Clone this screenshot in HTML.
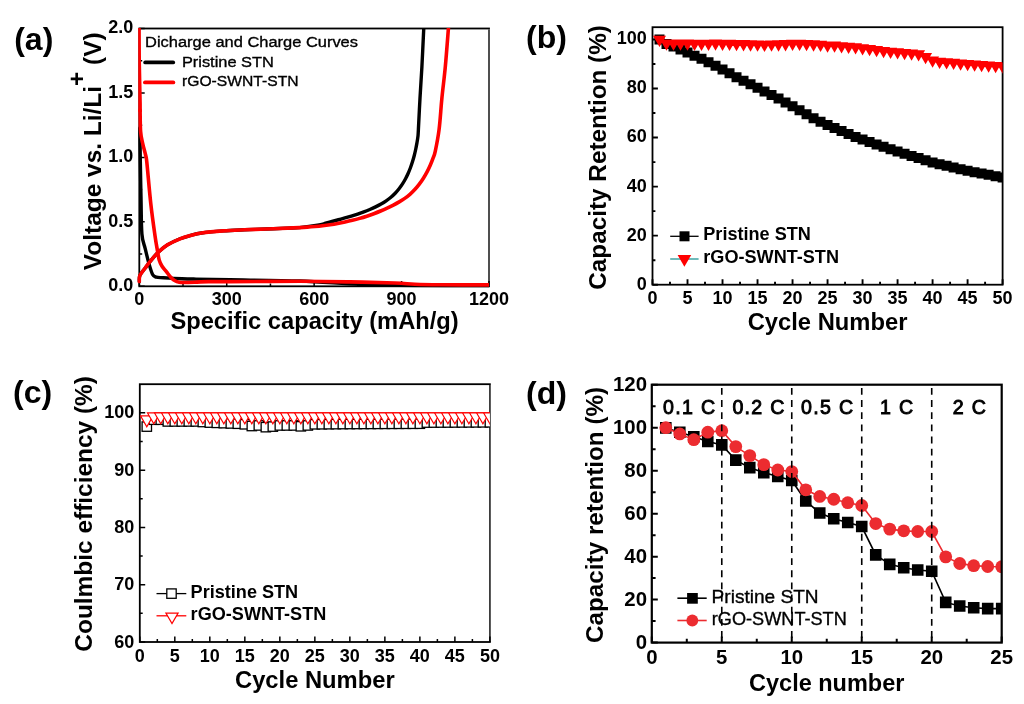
<!DOCTYPE html>
<html><head><meta charset="utf-8"><style>
html,body{margin:0;padding:0;background:#fff;width:1024px;height:704px;overflow:hidden}
svg{display:block;will-change:transform}
</style></head><body>
<svg width="1024" height="704" viewBox="0 0 1024 704" font-family="Liberation Sans, sans-serif">
<rect width="1024" height="704" fill="#fff"/>
<defs>
<clipPath id="ca"><rect x="139.30" y="28.50" width="349.70" height="257.80"/></clipPath>
<clipPath id="cb"><rect x="652.50" y="27.20" width="350.10" height="257.50"/></clipPath>
<clipPath id="cc"><rect x="139.80" y="384.20" width="350.10" height="257.80"/></clipPath>
<clipPath id="cd"><rect x="651.80" y="384.70" width="349.90" height="257.90"/></clipPath>
<clipPath id="ca2"><rect x="137.10" y="28.00" width="351.90" height="259.50"/></clipPath>
</defs>
<rect x="139.30" y="28.50" width="349.70" height="257.80" fill="none" stroke="#000" stroke-width="1.8"/>
<path d="M489.00,29.40V285.40" stroke="#fff" stroke-width="1.9000000000000001"/>
<path d="M489.00,29.40V285.40" stroke="#3d3d3d" stroke-width="1.8"/>
<path d="M139.30,286.30v-5.4M226.73,286.30v-5.4M314.15,286.30v-5.4M401.57,286.30v-5.4M489.00,286.30v-5.4M183.01,286.30v-2.9M270.44,286.30v-2.9M357.86,286.30v-2.9M445.29,286.30v-2.9M139.30,286.30h5.4M139.30,221.85h5.4M139.30,157.40h5.4M139.30,92.95h5.4M139.30,28.50h5.4M139.30,254.08h2.9M139.30,189.62h2.9M139.30,125.18h2.9M139.30,60.72h2.9" stroke="#000" stroke-width="1.5" fill="none"/>
<g clip-path="url(#ca2)" fill="none" stroke-linejoin="round" stroke-linecap="round">
<path d="M139.90,128.00 C139.97,133.33 140.12,148.52 140.30,160.00 C140.48,171.48 140.73,184.60 141.00,196.90 C141.27,209.20 141.20,225.18 141.90,233.80 C142.60,242.42 144.03,243.67 145.20,248.60 C146.37,253.53 147.67,259.08 148.90,263.40 C150.13,267.72 151.37,272.20 152.60,274.50 C153.83,276.80 154.45,276.65 156.30,277.20 C158.15,277.75 159.40,277.55 163.70,277.80 C168.00,278.05 176.72,278.48 182.10,278.70 C187.48,278.92 188.02,278.92 196.00,279.10 C203.98,279.28 212.67,279.48 230.00,279.80 C247.33,280.12 278.33,280.25 300.00,281.00 C321.67,281.75 340.83,283.55 360.00,284.30 C379.17,285.05 393.50,285.25 415.00,285.50 C436.50,285.75 476.67,285.75 489.00,285.80" stroke="#000" stroke-width="3.4"/>
<path d="M139.30,281.50 C139.40,280.48 138.92,277.65 139.90,275.40 C140.88,273.15 143.38,270.47 145.20,268.00 C147.02,265.53 148.63,263.22 150.80,260.60 C152.97,257.98 155.43,254.92 158.20,252.30 C160.97,249.68 163.77,247.15 167.40,244.90 C171.03,242.65 176.12,240.38 180.00,238.80 C183.88,237.22 187.12,236.37 190.70,235.40 C194.28,234.43 196.12,233.75 201.50,233.00 C206.88,232.25 215.83,231.43 223.00,230.90 C230.17,230.37 237.35,230.12 244.50,229.80 C251.65,229.48 258.75,229.28 265.90,229.00 C273.05,228.72 281.80,228.33 287.40,228.10 C293.00,227.87 294.19,228.13 299.50,227.60 C304.81,227.07 314.91,225.63 319.26,224.90 C323.61,224.17 323.45,223.77 325.57,223.20 C327.69,222.63 329.84,222.06 331.98,221.49 C334.12,220.92 336.28,220.34 338.44,219.75 C340.60,219.16 342.76,218.56 344.91,217.94 C347.06,217.32 349.20,216.70 351.32,216.05 C353.44,215.40 355.56,214.72 357.65,214.02 C359.73,213.32 361.80,212.61 363.83,211.85 C365.86,211.09 367.86,210.30 369.82,209.48 C371.78,208.66 373.71,207.81 375.58,206.90 C377.45,205.99 379.28,205.05 381.04,204.04 C382.81,203.03 384.53,201.97 386.17,200.84 C387.81,199.71 389.40,198.53 390.91,197.26 C392.42,195.99 393.85,194.65 395.21,193.24 C396.57,191.83 397.85,190.33 399.06,188.78 C400.27,187.23 401.41,185.60 402.49,183.92 C403.57,182.24 404.58,180.50 405.53,178.72 C406.48,176.94 407.37,175.10 408.20,173.23 C409.03,171.36 409.81,169.44 410.53,167.50 C411.25,165.56 411.92,163.58 412.54,161.58 C413.16,159.58 413.74,157.55 414.27,155.49 C414.80,153.44 415.28,151.35 415.72,149.25 C416.17,147.15 416.57,145.02 416.94,142.87 C417.31,140.72 417.70,138.62 417.94,136.37 C418.18,134.12 418.06,135.78 418.40,129.40 C418.74,123.02 419.42,108.52 420.00,98.10 C420.58,87.68 421.27,78.48 421.90,66.90 C422.52,55.32 423.35,36.42 423.75,28.60 C424.15,20.78 424.21,21.43 424.30,20.00" stroke="#000" stroke-width="3.4"/>
<path d="M140.10,110.00 C140.18,113.55 140.18,125.80 140.60,131.30 C141.02,136.80 141.77,139.05 142.60,143.00 C143.43,146.95 144.90,151.83 145.60,155.00 C146.30,158.17 145.93,153.87 146.80,162.00 C147.67,170.13 149.43,191.52 150.80,203.80 C152.17,216.08 153.87,227.75 155.00,235.70 C156.13,243.65 156.90,247.45 157.60,251.50 C158.30,255.55 158.48,257.58 159.20,260.00 C159.92,262.42 160.70,264.05 161.90,266.00 C163.10,267.95 164.97,269.88 166.40,271.70 C167.83,273.52 169.13,275.43 170.50,276.90 C171.87,278.37 173.13,279.62 174.60,280.50 C176.07,281.38 177.55,281.87 179.30,282.20 C181.05,282.53 182.17,282.52 185.10,282.50 C188.03,282.48 192.98,282.25 196.90,282.10 C200.82,281.95 203.08,281.68 208.60,281.60 C214.12,281.52 214.77,281.65 230.00,281.60 C245.23,281.55 280.00,281.25 300.00,281.30 C320.00,281.35 334.17,281.62 350.00,281.90 C365.83,282.18 384.17,282.60 395.00,283.00 C405.83,283.40 407.50,284.00 415.00,284.30 C422.50,284.60 427.67,284.70 440.00,284.80 C452.33,284.90 480.83,284.88 489.00,284.90" stroke="#ff0000" stroke-width="3.6"/>
<path d="M139.30,281.50 C139.40,280.48 138.92,277.65 139.90,275.40 C140.88,273.15 143.38,270.47 145.20,268.00 C147.02,265.53 148.63,263.22 150.80,260.60 C152.97,257.98 155.43,254.92 158.20,252.30 C160.97,249.68 163.77,247.15 167.40,244.90 C171.03,242.65 176.12,240.38 180.00,238.80 C183.88,237.22 187.12,236.37 190.70,235.40 C194.28,234.43 196.12,233.75 201.50,233.00 C206.88,232.25 215.83,231.43 223.00,230.90 C230.17,230.37 237.35,230.12 244.50,229.80 C251.65,229.48 258.75,229.28 265.90,229.00 C273.05,228.72 281.79,228.33 287.40,228.10 C293.00,227.87 296.23,227.75 299.53,227.59 C302.83,227.43 304.66,227.33 307.22,227.16 C309.78,226.99 312.33,226.79 314.88,226.55 C317.43,226.31 319.97,226.05 322.50,225.74 C325.03,225.44 327.56,225.10 330.08,224.72 C332.60,224.34 335.11,223.93 337.60,223.48 C340.09,223.03 342.57,222.54 345.04,222.01 C347.51,221.48 349.96,220.92 352.40,220.31 C354.83,219.70 357.25,219.06 359.65,218.37 C362.05,217.68 364.43,216.95 366.79,216.17 C369.15,215.39 371.50,214.57 373.80,213.71 C376.11,212.85 378.39,211.95 380.62,211.02 C382.85,210.09 385.04,209.13 387.16,208.15 C389.28,207.17 391.35,206.16 393.36,205.12 C395.37,204.08 397.31,203.01 399.21,201.89 C401.10,200.77 402.94,199.64 404.73,198.39 C406.52,197.13 408.25,195.83 409.93,194.36 C411.61,192.89 413.23,191.28 414.79,189.59 C416.35,187.90 417.87,186.08 419.30,184.19 C420.74,182.30 422.10,180.31 423.40,178.26 C424.69,176.21 425.93,174.08 427.07,171.92 C428.21,169.75 429.27,167.52 430.25,165.27 C431.23,163.02 432.14,160.73 432.97,158.40 C433.80,156.07 434.23,156.14 435.25,151.31 C436.27,146.48 437.99,138.27 439.10,129.40 C440.21,120.53 440.87,108.52 441.90,98.10 C442.93,87.68 444.22,78.48 445.30,66.90 C446.38,55.32 447.77,36.42 448.40,28.60 C449.03,20.78 448.98,21.43 449.10,20.00" stroke="#ff0000" stroke-width="3.6"/>
<path d="M138.2,28.0H140.8L141.0,60L141.9,104L141.9,112H138.3Z" fill="#ff0000" stroke="none"/>
</g>
<path d="M145.2,62.4H173.2" stroke="#000" stroke-width="3.8" stroke-linecap="round"/>
<path d="M145.0,82.4H173.3" stroke="#ff0000" stroke-width="3.9" stroke-linecap="round"/>
<text x="145.00" y="46.80" font-size="15.5" font-weight="normal" text-anchor="start" stroke="#000" stroke-width="0.35" textLength="213" lengthAdjust="spacingAndGlyphs">Dicharge and Charge Curves</text>
<text x="181.90" y="66.70" font-size="15.5" font-weight="normal" text-anchor="start" stroke="#000" stroke-width="0.35" textLength="92" lengthAdjust="spacingAndGlyphs">Pristine STN</text>
<text x="182.00" y="86.40" font-size="15.5" font-weight="normal" text-anchor="start" stroke="#000" stroke-width="0.35" textLength="116.5" lengthAdjust="spacingAndGlyphs">rGO-SWNT-STN</text>
<text x="133.40" y="291.00" font-size="18" font-weight="bold" text-anchor="end" >0.0</text>
<text x="133.40" y="226.55" font-size="18" font-weight="bold" text-anchor="end" >0.5</text>
<text x="133.40" y="162.10" font-size="18" font-weight="bold" text-anchor="end" >1.0</text>
<text x="133.40" y="97.65" font-size="18" font-weight="bold" text-anchor="end" >1.5</text>
<text x="133.40" y="33.20" font-size="18" font-weight="bold" text-anchor="end" >2.0</text>
<text x="139.30" y="305.30" font-size="18" font-weight="bold" text-anchor="middle" >0</text>
<text x="226.73" y="305.30" font-size="18" font-weight="bold" text-anchor="middle" >300</text>
<text x="314.15" y="305.30" font-size="18" font-weight="bold" text-anchor="middle" >600</text>
<text x="401.57" y="305.30" font-size="18" font-weight="bold" text-anchor="middle" >900</text>
<text x="489.00" y="305.30" font-size="18" font-weight="bold" text-anchor="middle" >1200</text>
<text x="170.40" y="329.00" font-size="23.7" font-weight="bold" text-anchor="start" >Specific capacity (mAh/g)</text>
<text transform="translate(100.6,270.2) rotate(-90)" font-size="24.45" font-weight="bold">Voltage vs. Li/Li<tspan dy="-15.6">+</tspan><tspan dy="15.6"> (V)</tspan></text>
<text x="14.20" y="50.20" font-size="32" font-weight="bold" text-anchor="start" >(a)</text>
<rect x="652.50" y="27.20" width="350.10" height="257.50" fill="none" stroke="#000" stroke-width="1.8"/>
<path d="M652.50,284.70v-5.4M687.51,284.70v-5.4M722.52,284.70v-5.4M757.53,284.70v-5.4M792.54,284.70v-5.4M827.55,284.70v-5.4M862.56,284.70v-5.4M897.57,284.70v-5.4M932.58,284.70v-5.4M967.59,284.70v-5.4M1002.60,284.70v-5.4M670.00,284.70v-2.9M705.01,284.70v-2.9M740.02,284.70v-2.9M775.03,284.70v-2.9M810.05,284.70v-2.9M845.06,284.70v-2.9M880.07,284.70v-2.9M915.08,284.70v-2.9M950.09,284.70v-2.9M985.10,284.70v-2.9M652.50,284.70h5.4M652.50,235.65h5.4M652.50,186.60h5.4M652.50,137.56h5.4M652.50,88.51h5.4M652.50,39.46h5.4M652.50,260.18h2.9M652.50,211.13h2.9M652.50,162.08h2.9M652.50,113.03h2.9M652.50,63.99h2.9" stroke="#000" stroke-width="1.9" fill="none"/>
<g clip-path="url(#cb)">
<path d="M654.50,34.46h10.0v10.0h-10.0ZM661.50,38.88h10.0v10.0h-10.0ZM668.51,41.57h10.0v10.0h-10.0ZM675.51,44.52h10.0v10.0h-10.0ZM682.51,47.58h10.0v10.0h-10.0ZM689.51,50.65h10.0v10.0h-10.0ZM696.51,53.80h10.0v10.0h-10.0ZM703.52,57.30h10.0v10.0h-10.0ZM710.52,60.81h10.0v10.0h-10.0ZM717.52,64.45h10.0v10.0h-10.0ZM724.52,68.30h10.0v10.0h-10.0ZM731.52,72.16h10.0v10.0h-10.0ZM738.53,75.80h10.0v10.0h-10.0ZM745.53,79.31h10.0v10.0h-10.0ZM752.53,82.81h10.0v10.0h-10.0ZM759.53,86.38h10.0v10.0h-10.0ZM766.53,89.97h10.0v10.0h-10.0ZM773.54,93.56h10.0v10.0h-10.0ZM780.54,97.42h10.0v10.0h-10.0ZM787.54,101.27h10.0v10.0h-10.0ZM794.54,105.16h10.0v10.0h-10.0ZM801.54,109.19h10.0v10.0h-10.0ZM808.55,113.22h10.0v10.0h-10.0ZM815.55,116.86h10.0v10.0h-10.0ZM822.55,119.93h10.0v10.0h-10.0ZM829.55,122.99h10.0v10.0h-10.0ZM836.55,126.01h10.0v10.0h-10.0ZM843.56,128.98h10.0v10.0h-10.0ZM850.56,131.96h10.0v10.0h-10.0ZM857.56,134.52h10.0v10.0h-10.0ZM864.56,136.97h10.0v10.0h-10.0ZM871.56,139.42h10.0v10.0h-10.0ZM878.57,141.79h10.0v10.0h-10.0ZM885.57,144.15h10.0v10.0h-10.0ZM892.57,146.49h10.0v10.0h-10.0ZM899.57,148.70h10.0v10.0h-10.0ZM906.57,150.91h10.0v10.0h-10.0ZM913.58,153.12h10.0v10.0h-10.0ZM920.58,155.34h10.0v10.0h-10.0ZM927.58,157.49h10.0v10.0h-10.0ZM934.58,159.16h10.0v10.0h-10.0ZM941.58,160.82h10.0v10.0h-10.0ZM948.59,162.49h10.0v10.0h-10.0ZM955.59,164.16h10.0v10.0h-10.0ZM962.59,165.82h10.0v10.0h-10.0ZM969.59,167.22h10.0v10.0h-10.0ZM976.59,168.55h10.0v10.0h-10.0ZM983.60,169.87h10.0v10.0h-10.0ZM990.60,171.20h10.0v10.0h-10.0ZM997.60,172.53h10.0v10.0h-10.0Z" fill="#000"/>
<path d="M653.00,35.71H666.00L659.50,46.97ZM660.00,39.39H673.00L666.50,50.65ZM667.01,39.39H680.01L673.51,50.65ZM674.01,39.39H687.01L680.51,50.65ZM681.01,39.39H694.01L687.51,50.65ZM688.01,39.63H701.01L694.51,50.89ZM695.01,39.63H708.01L701.51,50.89ZM702.02,39.63H715.02L708.52,50.89ZM709.02,39.39H722.02L715.52,50.65ZM716.02,39.63H729.02L722.52,50.89ZM723.02,39.63H736.02L729.52,50.89ZM730.02,39.88H743.02L736.52,51.14ZM737.03,40.12H750.03L743.53,51.38ZM744.03,40.37H757.03L750.53,51.63ZM751.03,40.61H764.03L757.53,51.87ZM758.03,40.86H771.03L764.53,52.12ZM765.03,40.61H778.03L771.53,51.87ZM772.04,40.37H785.04L778.54,51.63ZM779.04,40.12H792.04L785.54,51.38ZM786.04,39.63H799.04L792.54,50.89ZM793.04,39.63H806.04L799.54,50.89ZM800.04,39.88H813.04L806.54,51.14ZM807.05,40.37H820.05L813.55,51.63ZM814.05,40.86H827.05L820.55,52.12ZM821.05,41.59H834.05L827.55,52.85ZM828.05,41.59H841.05L834.55,52.85ZM835.05,42.33H848.05L841.55,53.59ZM842.06,42.82H855.06L848.56,54.08ZM849.06,43.31H862.06L855.56,54.57ZM856.06,44.29H869.06L862.56,55.55ZM863.06,45.03H876.06L869.56,56.29ZM870.06,46.01H883.06L876.56,57.27ZM877.07,46.99H890.07L883.57,58.25ZM884.07,47.73H897.07L890.57,58.98ZM891.07,48.22H904.07L897.57,59.47ZM898.07,48.95H911.07L904.57,60.21ZM905.07,49.44H918.07L911.57,60.70ZM912.08,50.18H925.08L918.58,61.44ZM919.08,52.88H932.08L925.58,64.13ZM926.08,56.55H939.08L932.58,67.81ZM933.08,57.78H946.08L939.58,69.04ZM940.08,58.27H953.08L946.58,69.53ZM947.09,58.76H960.09L953.59,70.02ZM954.09,59.50H967.09L960.59,70.76ZM961.09,59.99H974.09L967.59,71.25ZM968.09,60.48H981.09L974.59,71.74ZM975.09,60.97H988.09L981.59,72.23ZM982.10,61.46H995.10L988.60,72.72ZM989.10,61.95H1002.10L995.60,73.21ZM996.10,62.44H1009.10L1002.60,73.70Z" fill="#ff0000"/>
</g>
<text x="646.80" y="289.60" font-size="18" font-weight="bold" text-anchor="end" >0</text>
<text x="646.80" y="240.55" font-size="18" font-weight="bold" text-anchor="end" >20</text>
<text x="646.80" y="191.50" font-size="18" font-weight="bold" text-anchor="end" >40</text>
<text x="646.80" y="142.46" font-size="18" font-weight="bold" text-anchor="end" >60</text>
<text x="646.80" y="93.41" font-size="18" font-weight="bold" text-anchor="end" >80</text>
<text x="646.80" y="44.36" font-size="18" font-weight="bold" text-anchor="end" >100</text>
<text x="652.50" y="304.30" font-size="18" font-weight="bold" text-anchor="middle" >0</text>
<text x="687.51" y="304.30" font-size="18" font-weight="bold" text-anchor="middle" >5</text>
<text x="722.52" y="304.30" font-size="18" font-weight="bold" text-anchor="middle" >10</text>
<text x="757.53" y="304.30" font-size="18" font-weight="bold" text-anchor="middle" >15</text>
<text x="792.54" y="304.30" font-size="18" font-weight="bold" text-anchor="middle" >20</text>
<text x="827.55" y="304.30" font-size="18" font-weight="bold" text-anchor="middle" >25</text>
<text x="862.56" y="304.30" font-size="18" font-weight="bold" text-anchor="middle" >30</text>
<text x="897.57" y="304.30" font-size="18" font-weight="bold" text-anchor="middle" >35</text>
<text x="932.58" y="304.30" font-size="18" font-weight="bold" text-anchor="middle" >40</text>
<text x="967.59" y="304.30" font-size="18" font-weight="bold" text-anchor="middle" >45</text>
<text x="1002.60" y="304.30" font-size="18" font-weight="bold" text-anchor="middle" >50</text>
<text x="827.55" y="330.10" font-size="23.75" font-weight="bold" text-anchor="middle" >Cycle Number</text>
<text transform="translate(605.70,289.70) rotate(-90)" font-size="24.3" font-weight="bold" text-anchor="start">Capacity Retention (%)</text>
<text x="526.00" y="48.20" font-size="32" font-weight="bold" text-anchor="start" >(b)</text>
<path d="M670.2,236.3H698.6" stroke="#000" stroke-width="1.3"/>
<rect x="679.5" y="231.3" width="10" height="10" fill="#000"/>
<path d="M670.2,259H698.6" stroke="#5fb3b3" stroke-width="1.8"/>
<path d="M677.60,255.07H691.20L684.40,266.85Z" fill="#ff0000"/>
<text x="703.30" y="240.10" font-size="18.1" font-weight="bold" text-anchor="start" >Pristine STN</text>
<text x="703.30" y="262.60" font-size="18.1" font-weight="bold" text-anchor="start" >rGO-SWNT-STN</text>
<rect x="139.80" y="384.20" width="350.10" height="257.80" fill="none" stroke="#000" stroke-width="1.8"/>
<path d="M489.90,385.10V641.10" stroke="#fff" stroke-width="1.9000000000000001"/>
<path d="M489.90,385.10V641.10" stroke="#3d3d3d" stroke-width="1.8"/>
<path d="M139.80,642.00v-5.4M174.81,642.00v-5.4M209.82,642.00v-5.4M244.83,642.00v-5.4M279.84,642.00v-5.4M314.85,642.00v-5.4M349.86,642.00v-5.4M384.87,642.00v-5.4M419.88,642.00v-5.4M454.89,642.00v-5.4M489.90,642.00v-5.4M157.31,642.00v-2.9M192.31,642.00v-2.9M227.32,642.00v-2.9M262.33,642.00v-2.9M297.35,642.00v-2.9M332.36,642.00v-2.9M367.37,642.00v-2.9M402.38,642.00v-2.9M437.38,642.00v-2.9M472.39,642.00v-2.9M139.80,642.00h5.4M139.80,584.71h5.4M139.80,527.42h5.4M139.80,470.13h5.4M139.80,412.84h5.4M139.80,613.36h2.9M139.80,556.07h2.9M139.80,498.78h2.9M139.80,441.49h2.9" stroke="#000" stroke-width="1.5" fill="none"/>
<g clip-path="url(#cc)" fill="none">
<rect x="142.10" y="421.89" width="9.4" height="9.4" stroke="#000" stroke-width="1.3" fill="#fff"/>
<rect x="149.10" y="415.02" width="9.4" height="9.4" stroke="#000" stroke-width="1.3" fill="#fff"/>
<rect x="156.11" y="415.02" width="9.4" height="9.4" stroke="#000" stroke-width="1.3" fill="#fff"/>
<rect x="163.11" y="416.74" width="9.4" height="9.4" stroke="#000" stroke-width="1.3" fill="#fff"/>
<rect x="170.11" y="416.74" width="9.4" height="9.4" stroke="#000" stroke-width="1.3" fill="#fff"/>
<rect x="177.11" y="416.74" width="9.4" height="9.4" stroke="#000" stroke-width="1.3" fill="#fff"/>
<rect x="184.11" y="416.74" width="9.4" height="9.4" stroke="#000" stroke-width="1.3" fill="#fff"/>
<rect x="191.12" y="416.74" width="9.4" height="9.4" stroke="#000" stroke-width="1.3" fill="#fff"/>
<rect x="198.12" y="417.31" width="9.4" height="9.4" stroke="#000" stroke-width="1.3" fill="#fff"/>
<rect x="205.12" y="417.88" width="9.4" height="9.4" stroke="#000" stroke-width="1.3" fill="#fff"/>
<rect x="212.12" y="418.17" width="9.4" height="9.4" stroke="#000" stroke-width="1.3" fill="#fff"/>
<rect x="219.12" y="418.46" width="9.4" height="9.4" stroke="#000" stroke-width="1.3" fill="#fff"/>
<rect x="226.13" y="418.74" width="9.4" height="9.4" stroke="#000" stroke-width="1.3" fill="#fff"/>
<rect x="233.13" y="419.03" width="9.4" height="9.4" stroke="#000" stroke-width="1.3" fill="#fff"/>
<rect x="240.13" y="419.60" width="9.4" height="9.4" stroke="#000" stroke-width="1.3" fill="#fff"/>
<rect x="247.13" y="421.32" width="9.4" height="9.4" stroke="#000" stroke-width="1.3" fill="#fff"/>
<rect x="254.13" y="420.75" width="9.4" height="9.4" stroke="#000" stroke-width="1.3" fill="#fff"/>
<rect x="261.14" y="422.47" width="9.4" height="9.4" stroke="#000" stroke-width="1.3" fill="#fff"/>
<rect x="268.14" y="421.89" width="9.4" height="9.4" stroke="#000" stroke-width="1.3" fill="#fff"/>
<rect x="275.14" y="420.75" width="9.4" height="9.4" stroke="#000" stroke-width="1.3" fill="#fff"/>
<rect x="282.14" y="420.75" width="9.4" height="9.4" stroke="#000" stroke-width="1.3" fill="#fff"/>
<rect x="289.14" y="420.75" width="9.4" height="9.4" stroke="#000" stroke-width="1.3" fill="#fff"/>
<rect x="296.15" y="421.61" width="9.4" height="9.4" stroke="#000" stroke-width="1.3" fill="#fff"/>
<rect x="303.15" y="420.75" width="9.4" height="9.4" stroke="#000" stroke-width="1.3" fill="#fff"/>
<rect x="310.15" y="419.60" width="9.4" height="9.4" stroke="#000" stroke-width="1.3" fill="#fff"/>
<rect x="317.15" y="419.54" width="9.4" height="9.4" stroke="#000" stroke-width="1.3" fill="#fff"/>
<rect x="324.15" y="419.49" width="9.4" height="9.4" stroke="#000" stroke-width="1.3" fill="#fff"/>
<rect x="331.16" y="419.43" width="9.4" height="9.4" stroke="#000" stroke-width="1.3" fill="#fff"/>
<rect x="338.16" y="419.37" width="9.4" height="9.4" stroke="#000" stroke-width="1.3" fill="#fff"/>
<rect x="345.16" y="419.32" width="9.4" height="9.4" stroke="#000" stroke-width="1.3" fill="#fff"/>
<rect x="352.16" y="419.29" width="9.4" height="9.4" stroke="#000" stroke-width="1.3" fill="#fff"/>
<rect x="359.16" y="419.26" width="9.4" height="9.4" stroke="#000" stroke-width="1.3" fill="#fff"/>
<rect x="366.17" y="419.23" width="9.4" height="9.4" stroke="#000" stroke-width="1.3" fill="#fff"/>
<rect x="373.17" y="419.20" width="9.4" height="9.4" stroke="#000" stroke-width="1.3" fill="#fff"/>
<rect x="380.17" y="419.17" width="9.4" height="9.4" stroke="#000" stroke-width="1.3" fill="#fff"/>
<rect x="387.17" y="419.14" width="9.4" height="9.4" stroke="#000" stroke-width="1.3" fill="#fff"/>
<rect x="394.17" y="419.12" width="9.4" height="9.4" stroke="#000" stroke-width="1.3" fill="#fff"/>
<rect x="401.18" y="419.09" width="9.4" height="9.4" stroke="#000" stroke-width="1.3" fill="#fff"/>
<rect x="408.18" y="419.06" width="9.4" height="9.4" stroke="#000" stroke-width="1.3" fill="#fff"/>
<rect x="415.18" y="419.03" width="9.4" height="9.4" stroke="#000" stroke-width="1.3" fill="#fff"/>
<rect x="422.18" y="417.88" width="9.4" height="9.4" stroke="#000" stroke-width="1.3" fill="#fff"/>
<rect x="429.18" y="417.85" width="9.4" height="9.4" stroke="#000" stroke-width="1.3" fill="#fff"/>
<rect x="436.19" y="417.82" width="9.4" height="9.4" stroke="#000" stroke-width="1.3" fill="#fff"/>
<rect x="443.19" y="417.79" width="9.4" height="9.4" stroke="#000" stroke-width="1.3" fill="#fff"/>
<rect x="450.19" y="417.76" width="9.4" height="9.4" stroke="#000" stroke-width="1.3" fill="#fff"/>
<rect x="457.19" y="417.72" width="9.4" height="9.4" stroke="#000" stroke-width="1.3" fill="#fff"/>
<rect x="464.19" y="417.69" width="9.4" height="9.4" stroke="#000" stroke-width="1.3" fill="#fff"/>
<rect x="471.20" y="417.66" width="9.4" height="9.4" stroke="#000" stroke-width="1.3" fill="#fff"/>
<rect x="478.20" y="417.63" width="9.4" height="9.4" stroke="#000" stroke-width="1.3" fill="#fff"/>
<rect x="485.20" y="417.60" width="9.4" height="9.4" stroke="#000" stroke-width="1.3" fill="#fff"/>
<path d="M140.50,415.80H153.10L146.80,426.71Z" stroke="#ff0000" stroke-width="1.2" fill="#fff" stroke-linejoin="miter"/>
<path d="M147.50,412.93H160.10L153.80,423.84Z" stroke="#ff0000" stroke-width="1.2" fill="#fff" stroke-linejoin="miter"/>
<path d="M154.51,412.93H167.11L160.81,423.84Z" stroke="#ff0000" stroke-width="1.2" fill="#fff" stroke-linejoin="miter"/>
<path d="M161.51,412.93H174.11L167.81,423.84Z" stroke="#ff0000" stroke-width="1.2" fill="#fff" stroke-linejoin="miter"/>
<path d="M168.51,412.93H181.11L174.81,423.84Z" stroke="#ff0000" stroke-width="1.2" fill="#fff" stroke-linejoin="miter"/>
<path d="M175.51,412.93H188.11L181.81,423.84Z" stroke="#ff0000" stroke-width="1.2" fill="#fff" stroke-linejoin="miter"/>
<path d="M182.51,412.93H195.11L188.81,423.84Z" stroke="#ff0000" stroke-width="1.2" fill="#fff" stroke-linejoin="miter"/>
<path d="M189.52,412.93H202.12L195.82,423.84Z" stroke="#ff0000" stroke-width="1.2" fill="#fff" stroke-linejoin="miter"/>
<path d="M196.52,412.93H209.12L202.82,423.84Z" stroke="#ff0000" stroke-width="1.2" fill="#fff" stroke-linejoin="miter"/>
<path d="M203.52,412.93H216.12L209.82,423.84Z" stroke="#ff0000" stroke-width="1.2" fill="#fff" stroke-linejoin="miter"/>
<path d="M210.52,412.93H223.12L216.82,423.84Z" stroke="#ff0000" stroke-width="1.2" fill="#fff" stroke-linejoin="miter"/>
<path d="M217.52,412.93H230.12L223.82,423.84Z" stroke="#ff0000" stroke-width="1.2" fill="#fff" stroke-linejoin="miter"/>
<path d="M224.53,412.93H237.13L230.83,423.84Z" stroke="#ff0000" stroke-width="1.2" fill="#fff" stroke-linejoin="miter"/>
<path d="M231.53,412.93H244.13L237.83,423.84Z" stroke="#ff0000" stroke-width="1.2" fill="#fff" stroke-linejoin="miter"/>
<path d="M238.53,412.93H251.13L244.83,423.84Z" stroke="#ff0000" stroke-width="1.2" fill="#fff" stroke-linejoin="miter"/>
<path d="M245.53,412.93H258.13L251.83,423.84Z" stroke="#ff0000" stroke-width="1.2" fill="#fff" stroke-linejoin="miter"/>
<path d="M252.53,412.93H265.13L258.83,423.84Z" stroke="#ff0000" stroke-width="1.2" fill="#fff" stroke-linejoin="miter"/>
<path d="M259.54,412.93H272.14L265.84,423.84Z" stroke="#ff0000" stroke-width="1.2" fill="#fff" stroke-linejoin="miter"/>
<path d="M266.54,412.93H279.14L272.84,423.84Z" stroke="#ff0000" stroke-width="1.2" fill="#fff" stroke-linejoin="miter"/>
<path d="M273.54,412.93H286.14L279.84,423.84Z" stroke="#ff0000" stroke-width="1.2" fill="#fff" stroke-linejoin="miter"/>
<path d="M280.54,412.93H293.14L286.84,423.84Z" stroke="#ff0000" stroke-width="1.2" fill="#fff" stroke-linejoin="miter"/>
<path d="M287.54,412.93H300.14L293.84,423.84Z" stroke="#ff0000" stroke-width="1.2" fill="#fff" stroke-linejoin="miter"/>
<path d="M294.55,412.93H307.15L300.85,423.84Z" stroke="#ff0000" stroke-width="1.2" fill="#fff" stroke-linejoin="miter"/>
<path d="M301.55,412.93H314.15L307.85,423.84Z" stroke="#ff0000" stroke-width="1.2" fill="#fff" stroke-linejoin="miter"/>
<path d="M308.55,412.93H321.15L314.85,423.84Z" stroke="#ff0000" stroke-width="1.2" fill="#fff" stroke-linejoin="miter"/>
<path d="M315.55,412.93H328.15L321.85,423.84Z" stroke="#ff0000" stroke-width="1.2" fill="#fff" stroke-linejoin="miter"/>
<path d="M322.55,412.93H335.15L328.85,423.84Z" stroke="#ff0000" stroke-width="1.2" fill="#fff" stroke-linejoin="miter"/>
<path d="M329.56,412.93H342.16L335.86,423.84Z" stroke="#ff0000" stroke-width="1.2" fill="#fff" stroke-linejoin="miter"/>
<path d="M336.56,412.93H349.16L342.86,423.84Z" stroke="#ff0000" stroke-width="1.2" fill="#fff" stroke-linejoin="miter"/>
<path d="M343.56,412.93H356.16L349.86,423.84Z" stroke="#ff0000" stroke-width="1.2" fill="#fff" stroke-linejoin="miter"/>
<path d="M350.56,412.93H363.16L356.86,423.84Z" stroke="#ff0000" stroke-width="1.2" fill="#fff" stroke-linejoin="miter"/>
<path d="M357.56,412.93H370.16L363.86,423.84Z" stroke="#ff0000" stroke-width="1.2" fill="#fff" stroke-linejoin="miter"/>
<path d="M364.57,412.93H377.17L370.87,423.84Z" stroke="#ff0000" stroke-width="1.2" fill="#fff" stroke-linejoin="miter"/>
<path d="M371.57,412.93H384.17L377.87,423.84Z" stroke="#ff0000" stroke-width="1.2" fill="#fff" stroke-linejoin="miter"/>
<path d="M378.57,412.93H391.17L384.87,423.84Z" stroke="#ff0000" stroke-width="1.2" fill="#fff" stroke-linejoin="miter"/>
<path d="M385.57,412.93H398.17L391.87,423.84Z" stroke="#ff0000" stroke-width="1.2" fill="#fff" stroke-linejoin="miter"/>
<path d="M392.57,412.93H405.17L398.87,423.84Z" stroke="#ff0000" stroke-width="1.2" fill="#fff" stroke-linejoin="miter"/>
<path d="M399.58,412.93H412.18L405.88,423.84Z" stroke="#ff0000" stroke-width="1.2" fill="#fff" stroke-linejoin="miter"/>
<path d="M406.58,412.93H419.18L412.88,423.84Z" stroke="#ff0000" stroke-width="1.2" fill="#fff" stroke-linejoin="miter"/>
<path d="M413.58,412.93H426.18L419.88,423.84Z" stroke="#ff0000" stroke-width="1.2" fill="#fff" stroke-linejoin="miter"/>
<path d="M420.58,412.93H433.18L426.88,423.84Z" stroke="#ff0000" stroke-width="1.2" fill="#fff" stroke-linejoin="miter"/>
<path d="M427.58,412.93H440.18L433.88,423.84Z" stroke="#ff0000" stroke-width="1.2" fill="#fff" stroke-linejoin="miter"/>
<path d="M434.59,412.93H447.19L440.89,423.84Z" stroke="#ff0000" stroke-width="1.2" fill="#fff" stroke-linejoin="miter"/>
<path d="M441.59,412.93H454.19L447.89,423.84Z" stroke="#ff0000" stroke-width="1.2" fill="#fff" stroke-linejoin="miter"/>
<path d="M448.59,412.93H461.19L454.89,423.84Z" stroke="#ff0000" stroke-width="1.2" fill="#fff" stroke-linejoin="miter"/>
<path d="M455.59,412.93H468.19L461.89,423.84Z" stroke="#ff0000" stroke-width="1.2" fill="#fff" stroke-linejoin="miter"/>
<path d="M462.59,412.93H475.19L468.89,423.84Z" stroke="#ff0000" stroke-width="1.2" fill="#fff" stroke-linejoin="miter"/>
<path d="M469.60,412.93H482.20L475.90,423.84Z" stroke="#ff0000" stroke-width="1.2" fill="#fff" stroke-linejoin="miter"/>
<path d="M476.60,412.93H489.20L482.90,423.84Z" stroke="#ff0000" stroke-width="1.2" fill="#fff" stroke-linejoin="miter"/>
<path d="M483.60,412.93H496.20L489.90,423.84Z" stroke="#ff0000" stroke-width="1.2" fill="#fff" stroke-linejoin="miter"/>
</g>
<text x="134.30" y="647.50" font-size="18" font-weight="bold" text-anchor="end" >60</text>
<text x="134.30" y="590.21" font-size="18" font-weight="bold" text-anchor="end" >70</text>
<text x="134.30" y="532.92" font-size="18" font-weight="bold" text-anchor="end" >80</text>
<text x="134.30" y="475.63" font-size="18" font-weight="bold" text-anchor="end" >90</text>
<text x="134.30" y="418.34" font-size="18" font-weight="bold" text-anchor="end" >100</text>
<text x="139.80" y="661.50" font-size="18" font-weight="bold" text-anchor="middle" >0</text>
<text x="174.81" y="661.50" font-size="18" font-weight="bold" text-anchor="middle" >5</text>
<text x="209.82" y="661.50" font-size="18" font-weight="bold" text-anchor="middle" >10</text>
<text x="244.83" y="661.50" font-size="18" font-weight="bold" text-anchor="middle" >15</text>
<text x="279.84" y="661.50" font-size="18" font-weight="bold" text-anchor="middle" >20</text>
<text x="314.85" y="661.50" font-size="18" font-weight="bold" text-anchor="middle" >25</text>
<text x="349.86" y="661.50" font-size="18" font-weight="bold" text-anchor="middle" >30</text>
<text x="384.87" y="661.50" font-size="18" font-weight="bold" text-anchor="middle" >35</text>
<text x="419.88" y="661.50" font-size="18" font-weight="bold" text-anchor="middle" >40</text>
<text x="454.89" y="661.50" font-size="18" font-weight="bold" text-anchor="middle" >45</text>
<text x="489.90" y="661.50" font-size="18" font-weight="bold" text-anchor="middle" >50</text>
<text x="314.85" y="687.70" font-size="23.75" font-weight="bold" text-anchor="middle" >Cycle Number</text>
<text transform="translate(92.40,651.70) rotate(-90)" font-size="24.45" font-weight="bold" text-anchor="start">Coulmbic efficiency (%)</text>
<text x="13.00" y="402.90" font-size="32" font-weight="bold" text-anchor="start" >(c)</text>
<path d="M156.5,593.6H186.3" stroke="#000" stroke-width="1.3"/>
<rect x="166.8" y="588.9" width="9.4" height="9.4" fill="#fff" stroke="#000" stroke-width="1.3"/>
<path d="M156.5,615.8H186.3" stroke="#ff0000" stroke-width="1.3"/>
<path d="M165.90,613.08H178.10L172.00,623.64Z" fill="#fff" stroke="#ff0000" stroke-width="1.2"/>
<text x="190.60" y="598.30" font-size="18.1" font-weight="bold" text-anchor="start" >Pristine STN</text>
<text x="190.60" y="620.30" font-size="18.1" font-weight="bold" text-anchor="start" >rGO-SWNT-STN</text>
<g clip-path="url(#cd)">
<polyline points="665.80,427.90 679.79,432.20 693.79,436.71 707.78,441.44 721.78,444.88 735.78,460.14 749.77,467.66 763.77,472.60 777.76,476.47 791.76,480.55 805.76,500.97 819.75,513.01 833.75,518.81 847.74,522.46 861.74,526.54 875.74,554.91 889.73,564.37 903.73,567.81 917.72,569.96 931.72,571.25 945.72,602.41 959.71,606.06 973.71,607.78 987.70,608.64 1001.70,608.64" fill="none" stroke="#000" stroke-width="1.6"/>
<path d="M660.00,422.10h11.6v11.6h-11.6ZM673.99,426.40h11.6v11.6h-11.6ZM687.99,430.91h11.6v11.6h-11.6ZM701.98,435.64h11.6v11.6h-11.6ZM715.98,439.08h11.6v11.6h-11.6ZM729.98,454.34h11.6v11.6h-11.6ZM743.97,461.86h11.6v11.6h-11.6ZM757.97,466.80h11.6v11.6h-11.6ZM771.96,470.67h11.6v11.6h-11.6ZM785.96,474.75h11.6v11.6h-11.6ZM799.96,495.17h11.6v11.6h-11.6ZM813.95,507.21h11.6v11.6h-11.6ZM827.95,513.01h11.6v11.6h-11.6ZM841.94,516.66h11.6v11.6h-11.6ZM855.94,520.75h11.6v11.6h-11.6ZM869.94,549.11h11.6v11.6h-11.6ZM883.93,558.57h11.6v11.6h-11.6ZM897.93,562.01h11.6v11.6h-11.6ZM911.92,564.16h11.6v11.6h-11.6ZM925.92,565.45h11.6v11.6h-11.6ZM939.92,596.61h11.6v11.6h-11.6ZM953.91,600.26h11.6v11.6h-11.6ZM967.91,601.98h11.6v11.6h-11.6ZM981.90,602.84h11.6v11.6h-11.6ZM995.90,602.84h11.6v11.6h-11.6Z" fill="#000"/>
<polyline points="665.80,427.68 679.79,433.92 693.79,439.72 707.78,432.20 721.78,430.69 735.78,446.60 749.77,455.62 763.77,464.65 777.76,470.02 791.76,471.53 805.76,489.79 819.75,496.46 833.75,499.25 847.74,502.69 861.74,505.48 875.74,523.54 889.73,529.12 903.73,530.84 917.72,531.49 931.72,531.49 945.72,556.85 959.71,563.51 973.71,565.66 987.70,566.52 1001.70,566.73" fill="none" stroke="#ec2c30" stroke-width="1.6"/>
<circle cx="665.80" cy="427.68" r="6.4" fill="#ec2c30"/>
<circle cx="679.79" cy="433.92" r="6.4" fill="#ec2c30"/>
<circle cx="693.79" cy="439.72" r="6.4" fill="#ec2c30"/>
<circle cx="707.78" cy="432.20" r="6.4" fill="#ec2c30"/>
<circle cx="721.78" cy="430.69" r="6.4" fill="#ec2c30"/>
<circle cx="735.78" cy="446.60" r="6.4" fill="#ec2c30"/>
<circle cx="749.77" cy="455.62" r="6.4" fill="#ec2c30"/>
<circle cx="763.77" cy="464.65" r="6.4" fill="#ec2c30"/>
<circle cx="777.76" cy="470.02" r="6.4" fill="#ec2c30"/>
<circle cx="791.76" cy="471.53" r="6.4" fill="#ec2c30"/>
<circle cx="805.76" cy="489.79" r="6.4" fill="#ec2c30"/>
<circle cx="819.75" cy="496.46" r="6.4" fill="#ec2c30"/>
<circle cx="833.75" cy="499.25" r="6.4" fill="#ec2c30"/>
<circle cx="847.74" cy="502.69" r="6.4" fill="#ec2c30"/>
<circle cx="861.74" cy="505.48" r="6.4" fill="#ec2c30"/>
<circle cx="875.74" cy="523.54" r="6.4" fill="#ec2c30"/>
<circle cx="889.73" cy="529.12" r="6.4" fill="#ec2c30"/>
<circle cx="903.73" cy="530.84" r="6.4" fill="#ec2c30"/>
<circle cx="917.72" cy="531.49" r="6.4" fill="#ec2c30"/>
<circle cx="931.72" cy="531.49" r="6.4" fill="#ec2c30"/>
<circle cx="945.72" cy="556.85" r="6.4" fill="#ec2c30"/>
<circle cx="959.71" cy="563.51" r="6.4" fill="#ec2c30"/>
<circle cx="973.71" cy="565.66" r="6.4" fill="#ec2c30"/>
<circle cx="987.70" cy="566.52" r="6.4" fill="#ec2c30"/>
<circle cx="1001.70" cy="566.73" r="6.4" fill="#ec2c30"/>
</g>
<path d="M721.78,387.9V642.60" stroke="#000" stroke-width="1.6" stroke-dasharray="6.9,5.26"/>
<path d="M791.76,387.9V642.60" stroke="#000" stroke-width="1.6" stroke-dasharray="6.9,5.26"/>
<path d="M861.74,387.9V642.60" stroke="#000" stroke-width="1.6" stroke-dasharray="6.9,5.26"/>
<path d="M931.72,387.9V642.60" stroke="#000" stroke-width="1.6" stroke-dasharray="6.9,5.26"/>
<rect x="651.80" y="384.70" width="349.90" height="257.90" fill="none" stroke="#000" stroke-width="2.2"/>
<path d="M651.80,642.60v-6.0M721.78,642.60v-6.0M791.76,642.60v-6.0M861.74,642.60v-6.0M931.72,642.60v-6.0M1001.70,642.60v-6.0M686.79,642.60v-3.8M756.77,642.60v-3.8M826.75,642.60v-3.8M896.73,642.60v-3.8M966.71,642.60v-3.8M651.80,642.60h6.0M651.80,599.62h6.0M651.80,556.63h6.0M651.80,513.65h6.0M651.80,470.67h6.0M651.80,427.68h6.0M651.80,384.70h6.0M651.80,621.11h3.8M651.80,578.12h3.8M651.80,535.14h3.8M651.80,492.16h3.8M651.80,449.18h3.8M651.80,406.19h3.8" stroke="#000" stroke-width="2.0" fill="none"/>
<text x="647.00" y="648.90" font-size="20.4" font-weight="bold" text-anchor="end" >0</text>
<text x="647.00" y="605.92" font-size="20.4" font-weight="bold" text-anchor="end" >20</text>
<text x="647.00" y="562.93" font-size="20.4" font-weight="bold" text-anchor="end" >40</text>
<text x="647.00" y="519.95" font-size="20.4" font-weight="bold" text-anchor="end" >60</text>
<text x="647.00" y="476.97" font-size="20.4" font-weight="bold" text-anchor="end" >80</text>
<text x="647.00" y="433.98" font-size="20.4" font-weight="bold" text-anchor="end" >100</text>
<text x="647.00" y="391.00" font-size="20.4" font-weight="bold" text-anchor="end" >120</text>
<text x="651.80" y="663.90" font-size="20.4" font-weight="bold" text-anchor="middle" >0</text>
<text x="721.78" y="663.90" font-size="20.4" font-weight="bold" text-anchor="middle" >5</text>
<text x="791.76" y="663.90" font-size="20.4" font-weight="bold" text-anchor="middle" >10</text>
<text x="861.74" y="663.90" font-size="20.4" font-weight="bold" text-anchor="middle" >15</text>
<text x="931.72" y="663.90" font-size="20.4" font-weight="bold" text-anchor="middle" >20</text>
<text x="1001.70" y="663.90" font-size="20.4" font-weight="bold" text-anchor="middle" >25</text>
<text x="826.75" y="690.80" font-size="23.5" font-weight="bold" text-anchor="middle" >Cycle number</text>
<text transform="translate(602.60,643.00) rotate(-90)" font-size="24.27" font-weight="bold" text-anchor="start">Capacity retention (%)</text>
<text x="526.00" y="404.20" font-size="32" font-weight="bold" text-anchor="start" >(d)</text>
<text x="663.00" y="413.70" font-size="19.6" font-weight="normal" text-anchor="start" letter-spacing="1.3" stroke="#000" stroke-width="0.9">0.1 C</text>
<text x="732.40" y="413.70" font-size="19.6" font-weight="normal" text-anchor="start" letter-spacing="1.3" stroke="#000" stroke-width="0.9">0.2 C</text>
<text x="801.00" y="413.70" font-size="19.6" font-weight="normal" text-anchor="start" letter-spacing="1.3" stroke="#000" stroke-width="0.9">0.5 C</text>
<text x="880.00" y="413.70" font-size="19.6" font-weight="normal" text-anchor="start" letter-spacing="1.3" stroke="#000" stroke-width="0.9">1 C</text>
<text x="952.70" y="413.70" font-size="19.6" font-weight="normal" text-anchor="start" letter-spacing="1.3" stroke="#000" stroke-width="0.9">2 C</text>
<path d="M677.4,598.2H706.7" stroke="#000" stroke-width="1.6"/>
<rect x="687.1" y="593" width="10.7" height="10.7" fill="#000"/>
<path d="M677.4,620.5H706.7" stroke="#ec2c30" stroke-width="1.6"/>
<circle cx="692.3" cy="620.5" r="5.9" fill="#ec2c30"/>
<text x="711.60" y="602.60" font-size="18.6" font-weight="normal" text-anchor="start" stroke="#000" stroke-width="0.35" textLength="107" lengthAdjust="spacingAndGlyphs">Pristine STN</text>
<text x="711.80" y="625.00" font-size="18.6" font-weight="normal" text-anchor="start" stroke="#000" stroke-width="0.35" textLength="135" lengthAdjust="spacingAndGlyphs">rGO-SWNT-STN</text>
</svg>
</body></html>
